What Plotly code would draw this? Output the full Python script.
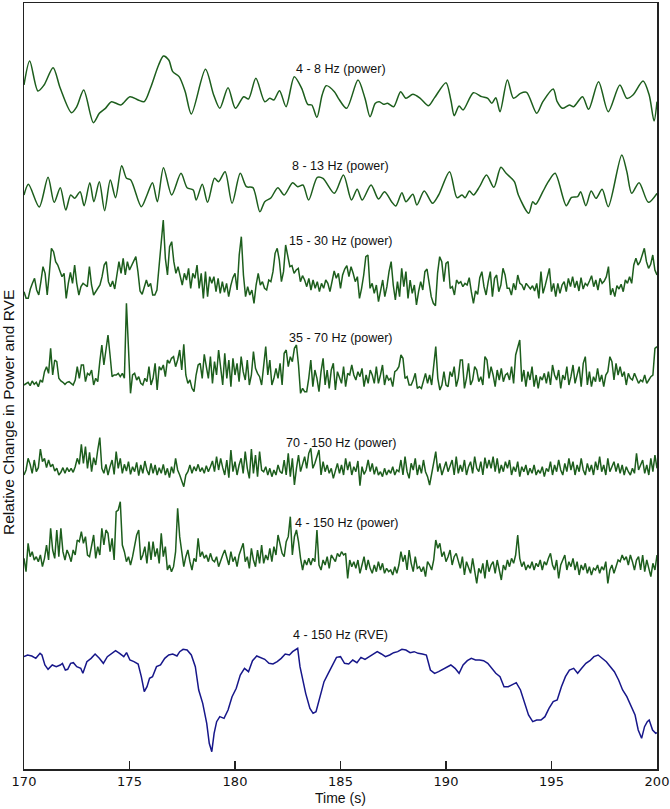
import numpy as np
import plotly.graph_objects as go

# ---------------- data (relative change, arbitrary units) ----------------
# 4 - 8 Hz power (extrema)
T_THETA = [170.00,170.27,170.66,170.95,171.38,171.72,172.25,172.50,172.83,173.29,173.57,173.86,174.15,174.59,
           175.02,175.41,175.70,175.99,176.38,176.61,176.86,177.05,177.35,177.64,177.93,178.60,178.99,179.28,
           179.67,180.02,180.41,180.64,180.99,181.41,181.65,181.84,182.11,182.42,182.81,183.16,183.45,183.64,
           183.88,184.13,184.32,184.71,184.90,185.29,185.83,186.16,186.40,186.65,186.84,187.04,187.23,187.52,
           187.85,188.10,188.43,188.78,189.17,189.46,190.00,190.23,190.39,190.62,190.81,191.30,191.69,191.98,
           192.17,192.36,192.56,192.91,193.20,193.53,193.82,194.30,194.59,195.08,195.27,195.52,195.85,196.05,
           196.47,196.76,197.23,197.69,198.24,198.57,198.86,199.34,199.63,199.86,200.00]
V_THETA = [120,192,102,120,172,110,37,55,105,7,35,50,70,60,
           85,75,70,110,180,207,195,160,145,100,33,167,90,50,
           112,50,85,78,140,70,80,75,103,55,145,110,62,60,
           23,90,118,100,80,50,135,80,25,65,70,62,65,55,
           100,80,92,80,58,82,127,75,28,57,45,97,85,80,
           65,82,40,135,80,95,98,35,70,108,70,50,60,55,
           85,47,130,40,120,80,90,132,90,12,70]

# 8 - 13 Hz power
T_ALPHA = [170.00,170.21,170.72,171.14,171.43,171.72,171.98,172.21,172.40,172.66,172.85,173.12,173.31,173.57,
           173.82,174.09,174.34,174.63,174.86,175.06,175.56,175.83,176.09,176.32,176.61,177.00,177.44,177.73,
           178.02,178.16,178.45,178.70,179.03,179.22,179.53,179.86,180.25,180.54,180.85,181.18,181.41,181.71,
           182.03,182.33,182.73,182.97,183.22,183.49,183.90,184.17,184.71,185.14,185.52,185.79,186.03,186.45,
           186.80,187.09,187.42,187.62,187.91,188.10,188.43,188.62,188.97,189.36,189.65,190.17,190.52,190.76,
           190.91,191.11,191.30,191.59,191.92,192.27,192.60,192.85,193.24,193.43,193.92,194.11,194.25,194.59,
           194.85,195.17,195.70,195.95,196.24,196.38,196.63,196.88,197.11,197.40,197.69,198.33,198.57,198.80,
           199.15,199.59,200.00]
V_ALPHA = [60,92,24,113,38,82,15,60,50,70,28,97,40,100,
           13,105,52,148,110,105,25,60,97,40,142,60,125,82,
           75,45,92,38,110,100,130,35,125,85,82,10,40,52,
           82,60,97,85,90,45,113,110,65,120,45,77,45,90,
           48,70,40,27,67,40,62,30,72,35,60,130,52,60,
           52,72,60,85,120,83,143,125,100,60,5,40,32,70,
           100,125,28,53,55,70,28,72,50,77,25,180,130,65,
           97,38,65]

# 15 - 30 Hz power, sampled every 0.1 s from 170 s
V_BETA = [50,30,30,58,75,90,55,40,80,125,
          105,40,105,180,170,140,130,110,95,105,
          30,75,108,75,130,75,40,65,75,70,
          65,125,70,40,50,60,70,95,130,140,
          80,65,82,58,105,140,105,150,100,140,
          115,130,145,155,110,52,42,68,85,65,
          75,40,40,55,130,195,265,150,100,185,
          200,140,105,125,100,70,105,85,120,60,
          105,90,130,60,105,30,110,35,95,75,
          95,50,90,45,80,48,75,35,68,92,
          105,55,160,215,100,35,65,40,55,15,
          70,105,70,80,60,55,85,80,110,165,
          180,145,80,110,190,160,125,128,105,115,
          120,80,98,85,65,90,55,85,60,80,
          50,75,60,85,75,50,80,112,90,105,
          60,100,118,128,95,125,105,80,95,30,
          60,100,155,160,60,75,45,70,20,50,
          85,35,65,110,140,70,25,80,35,120,
          65,110,30,85,45,70,10,50,80,55,
          110,118,70,35,15,8,105,155,140,80,
          135,140,60,65,40,85,75,80,65,75,
          70,92,50,15,52,42,92,110,65,40,
          80,110,35,90,100,50,70,120,100,60,
          60,40,75,55,100,75,70,55,75,65,
          58,68,52,75,30,110,45,68,92,120,
          50,75,35,75,45,70,80,50,90,65,
          95,62,82,52,92,58,75,68,82,98,
          65,85,55,90,75,82,95,125,40,60,
          35,68,58,72,50,85,75,95,75,130,
          150,130,140,160,180,140,120,132,160,115,
          100]

# 35 - 70 Hz power, evenly sampled over 170-200 s
V_GAMMA = [30,35,38,28,42,32,38,25,45,38,70,85,65,140,60,105,100,50,42,38,32,38,40,35,30,45,85,
           50,90,90,40,65,60,75,30,50,40,100,150,90,130,180,120,55,60,60,65,55,65,50,
           275,130,5,60,65,45,55,
           35,30,50,40,85,30,50,95,15,85,
           75,90,55,105,95,110,115,85,105,135,
           75,152,60,35,45,20,10,60,90,95,
           50,122,85,50,115,35,100,60,135,90,
           30,125,50,105,25,110,60,95,40,115,
           70,45,105,30,60,130,80,65,55,30,
           100,145,60,105,30,50,80,50,95,30,
           125,135,85,115,100,140,150,90,5,20,
           10,10,50,105,25,75,50,10,70,110,
           30,75,20,75,95,15,70,50,35,85,
           25,65,60,90,60,45,70,55,80,25,
           60,35,75,60,35,85,35,60,90,30,
           60,45,50,25,70,75,85,120,110,50,
           55,30,30,45,65,20,25,20,40,65,
           35,60,30,100,145,50,15,30,70,30,
           25,70,55,85,25,50,105,105,20,50,
           95,30,45,85,75,40,55,30,115,105,
           50,85,60,25,75,45,80,40,60,65,
           45,85,35,120,140,165,40,75,25,70,
           45,85,25,60,20,55,45,65,35,70,
           30,90,60,45,75,20,60,45,85,30,
           55,90,35,60,85,25,95,115,30,70,
           25,55,40,80,40,60,25,60,70,115,
           100,45,95,60,85,55,70,30,65,50,
           45,65,50,35,45,40,60,35,45,55,
           60,140,145]

# 70 - 150 Hz power, evenly sampled over 170-200 s
V_HGAMMA = [45,60,95,77,50,90,55,67,123,85,
            95,67,90,70,77,57,65,45,53,67,
            50,67,55,65,53,70,95,77,137,80,
            130,65,113,55,97,75,120,157,65,50,
            77,45,70,90,47,115,65,95,50,77,
            57,85,47,70,55,83,43,75,50,87,
            60,45,80,50,75,45,67,50,77,45,
            65,37,70,50,95,60,45,30,10,45,
            55,75,50,70,57,77,55,67,50,73,
            55,70,87,55,100,60,95,67,45,90,
            37,120,55,85,45,75,95,50,115,65,
            35,123,50,105,40,115,60,55,70,45,
            65,40,60,45,75,55,50,90,45,110,
            40,95,15,65,105,55,75,100,65,110,
            125,65,80,100,120,45,85,55,75,50,
            65,35,60,80,50,75,45,95,60,85,
            45,70,55,87,13,70,47,60,90,55,
            80,47,70,45,55,40,65,45,60,50,
            70,45,60,55,90,45,100,55,35,80,
            60,95,45,75,50,90,55,40,15,50,
            85,115,55,80,45,65,85,55,75,90,
            45,100,50,75,55,90,45,70,85,50,
            100,65,55,85,45,97,65,90,65,100,
            55,95,50,75,55,85,65,90,45,70,
            55,85,40,70,55,75,45,65,50,75,
            45,60,50,70,40,65,55,85,45,75,
            55,90,60,45,80,55,95,60,85,45,
            75,55,95,60,45,80,55,75,45,85,
            60,100,55,75,45,95,55,70,85,55,
            80,50,75,45,70,55,45,65,50,110,
            60,75,90,50,75,45,95,55,105,65]

# 4 - 150 Hz power, evenly sampled over 170-200 s
V_BROAD = [80,40,125,85,100,75,85,70,90,55,
           80,120,75,170,105,80,165,85,170,100,
           75,105,90,70,105,90,135,130,160,125,
           145,90,85,115,150,80,115,90,170,120,
           165,155,100,140,75,220,225,250,120,100,
           70,85,60,85,120,150,165,75,90,115,
           65,130,75,130,85,110,65,155,85,115,
           45,60,40,55,100,230,145,90,55,85,
           105,70,45,80,70,140,85,100,80,90,
           70,95,75,70,85,55,75,90,105,85,
           60,100,70,85,55,90,110,125,70,85,
           50,110,75,55,105,65,120,65,90,75,
           110,70,115,90,150,125,95,85,130,145,
           205,90,145,165,130,80,45,75,60,80,
           60,80,70,165,60,45,75,60,85,50,
           90,80,70,95,85,100,90,95,20,75,
           55,70,50,75,35,60,85,45,75,50,
           35,60,40,70,45,65,35,50,40,45,
           30,55,35,60,100,70,90,45,105,65,
           40,85,50,55,40,55,25,70,60,45,
           75,135,110,125,85,100,70,85,105,60,
           85,95,75,50,85,30,70,50,35,80,
           45,5,50,35,65,20,75,40,60,70,
           35,75,45,15,60,45,75,55,80,65,
           90,150,80,55,70,45,60,50,70,45,
           65,55,75,45,70,60,80,95,60,45,
           75,20,60,75,90,45,70,55,80,45,
           70,30,60,45,65,35,55,30,50,45,
           60,35,55,45,70,5,45,60,35,55,
           75,70,90,75,85,60,90,70,45,75,
           85,45,90,40,75,50,25,65,45,90]

# 4 - 150 Hz RVE
T_RVE = [170.00,170.17,170.37,170.56,170.76,170.85,170.99,171.14,171.34,171.53,171.72,171.82,171.96,172.07,
         172.21,172.34,172.50,172.69,172.79,172.98,173.18,173.37,173.57,173.76,173.95,174.15,174.34,174.53,
         174.73,174.86,175.02,175.21,175.41,175.56,175.70,175.83,175.95,176.09,176.28,176.47,176.67,176.86,
         177.05,177.25,177.38,177.54,177.73,177.93,178.12,178.28,178.47,178.66,178.78,178.90,179.01,179.13,
         179.28,179.48,179.67,179.86,180.06,180.25,180.45,180.64,180.83,181.03,181.22,181.41,181.61,181.80,
         182.00,182.19,182.38,182.58,182.73,182.87,182.97,183.08,183.20,183.35,183.55,183.70,183.84,184.03,
         184.22,184.42,184.61,184.81,185.00,185.19,185.39,185.58,185.78,185.97,186.16,186.36,186.55,186.74,
         186.94,187.13,187.33,187.52,187.71,187.91,188.10,188.30,188.49,188.68,188.88,189.07,189.26,189.46,
         189.65,189.85,190.04,190.23,190.43,190.62,190.81,191.01,191.20,191.40,191.59,191.78,191.98,192.17,
         192.36,192.56,192.75,192.95,193.14,193.33,193.53,193.72,193.91,194.11,194.30,194.50,194.69,194.88,
         195.08,195.27,195.47,195.66,195.85,196.05,196.24,196.43,196.63,196.82,197.01,197.21,197.40,197.60,
         197.79,197.98,198.18,198.37,198.57,198.76,198.96,199.11,199.27,199.41,199.54,199.63,199.79,199.94,
         200.00]
V_RVE = [290,295,292,285,300,295,265,252,265,260,265,270,250,252,
         270,272,260,255,240,275,285,298,285,270,290,300,308,300,
         290,302,280,275,268,230,185,200,225,230,260,265,285,295,
         298,292,305,312,310,295,260,190,150,90,30,5,60,95,
         110,105,130,170,195,235,255,245,278,292,288,282,270,268,
         275,285,298,295,305,310,315,260,220,180,135,120,125,170,
         215,240,265,288,290,270,268,280,272,288,282,290,295,305,
         298,290,295,302,305,312,310,302,305,300,298,295,250,240,
         245,252,260,265,255,240,265,278,285,280,280,278,270,255,
         240,230,200,200,205,212,190,155,115,95,100,100,110,135,
         155,160,200,230,250,255,240,255,270,278,290,295,285,275,
         260,245,220,190,170,145,115,70,45,80,95,100,70,60,
         62]

LABELS = ["4 - 8 Hz (power)", "8 - 13 Hz (power)", "15 - 30 Hz (power)", "35 - 70 Hz (power)",
          "70 - 150 Hz (power)", "4 - 150 Hz (power)", "4 - 150 Hz (RVE)"]
OFFSETS = [1932, 1662, 1382, 1122, 837, 552, 47]      # vertical stacking of the traces
LABEL_LEVEL = [2100, 1810, 1584, 1292, 977, 737, 402]
LABEL_TIME = [185, 185, 185, 185, 185, 185.3, 185]
X_TICKS = [170, 175, 180, 185, 190, 195, 200]

GREEN = "#1d5e1d"
BLUE = "#17178a"


def even_time(vals):
    return np.linspace(170, 200, len(vals))


series = [
    (T_THETA, V_THETA, GREEN, "spline"),
    (T_ALPHA, V_ALPHA, GREEN, "spline"),
    (even_time(V_BETA), V_BETA, GREEN, "linear"),
    (even_time(V_GAMMA), V_GAMMA, GREEN, "linear"),
    (even_time(V_HGAMMA), V_HGAMMA, GREEN, "linear"),
    (even_time(V_BROAD), V_BROAD, GREEN, "linear"),
    (T_RVE, V_RVE, BLUE, "linear"),
]

fig = go.Figure()
for (t, v, col, shape), off, name in zip(series, OFFSETS, LABELS):
    fig.add_trace(go.Scatter(
        x=list(t), y=list(np.asarray(v, dtype=float) + off), mode="lines", name=name,
        line=dict(color=col, width=1.5, shape=shape, smoothing=0.8 if shape == "spline" else None),
        hoverinfo="skip", showlegend=False))

annotations = []
for lab, lev, tx in zip(LABELS, LABEL_LEVEL, LABEL_TIME):
    annotations.append(dict(x=tx, y=lev, xref="x", yref="y", text=lab, showarrow=False,
                            font=dict(family="Liberation Sans, Arial, sans-serif", size=12.5, color="#111"),
                            xanchor="center", yanchor="middle"))
annotations.append(dict(x=0.5, y=-0.0379, xref="paper", yref="paper", text="Time (s)", showarrow=False,
                        font=dict(family="Liberation Sans, Arial, sans-serif", size=14, color="#111"),
                        xanchor="center", yanchor="middle"))
annotations.append(dict(x=-0.0253, y=0.466, xref="paper", yref="paper",
                        text="Relative Change in Power and RVE", showarrow=False, textangle=-90,
                        font=dict(family="Liberation Sans, Arial, sans-serif", size=15.5, color="#111"),
                        xanchor="center", yanchor="middle"))

fig.update_layout(
    width=670, height=809,
    margin=dict(l=24, r=13, t=3, b=40),
    paper_bgcolor="white", plot_bgcolor="white",
    annotations=annotations,
    xaxis=dict(range=[170, 200], tickmode="array", tickvals=X_TICKS, ticktext=[str(v) for v in X_TICKS],
               ticks="inside", ticklen=8, tickwidth=1.2, tickcolor="#222",
               showline=True, linecolor="#222", linewidth=1.5, mirror=True,
               showgrid=False, zeroline=False, automargin=False,
               tickfont=dict(family="DejaVu Sans, sans-serif", size=13, color="#111")),
    yaxis=dict(range=[0, 2298], showticklabels=False, ticks="", showline=True, linecolor="#222",
               linewidth=1.5, mirror=True, showgrid=False, zeroline=False, automargin=False),
)

fig.write_html("out.html", config={"displayModeBar": False, "staticPlot": True},
               post_script="document.body.style.margin='0';document.body.style.overflow='hidden';")
